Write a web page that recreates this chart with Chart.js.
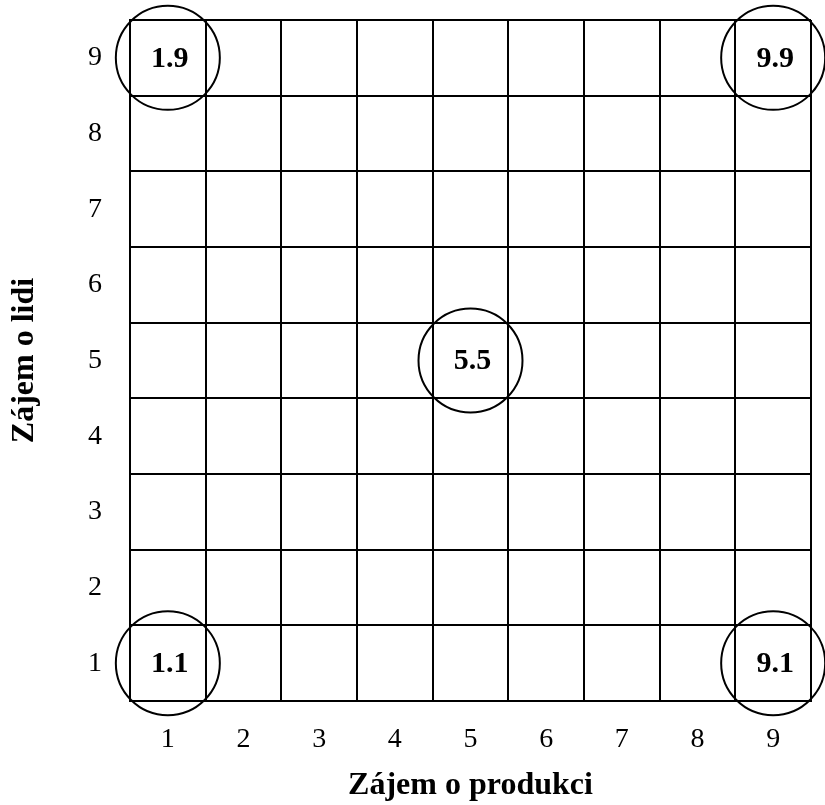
<!DOCTYPE html>
<html>
<head>
<meta charset="utf-8">
<title>Zájem o lidi / Zájem o produkci</title>
<script src="https://cdn.jsdelivr.net/npm/chart.js@4/dist/chart.umd.min.js"></script>
<style>
    html, body { margin: 0; padding: 0; background: #fff; }
    #grid { display: block; }
</style>
</head>
<body>
<canvas id="grid" width="825" height="805"></canvas>
<script>
// axis categories
const xLabels = ['1', '2', '3', '4', '5', '6', '7', '8', '9'];
const yLabels = ['9', '8', '7', '6', '5', '4', '3', '2', '1'];

// marked cells (x = zájem o produkci, y = zájem o lidi)
const pointX = [1, 9, 5, 1, 9];
const pointY = [9, 9, 5, 1, 1];
const pointText = ['1.9', '9.9', '5.5', '1.1', '9.1'];

const serif = '"Liberation Serif", "Times New Roman", serif';

// writes the bold number in the middle of each circle
const cellText = {
    id: 'cellText',
    afterDatasetsDraw(chart) {
        const ctx = chart.ctx;
        const meta = chart.getDatasetMeta(0);
        ctx.save();
        ctx.fillStyle = '#000';
        ctx.font = 'bold 30px ' + serif;
        ctx.textAlign = 'center';
        ctx.textBaseline = 'middle';
        meta.data.forEach((pt, i) => {
            ctx.fillText(pointText[i], pt.x + 2, pt.y + 1);
        });
        ctx.restore();
    }
};

const points = pointX.map((x, i) => ({ x: String(x), y: String(pointY[i]) }));

new Chart(document.getElementById('grid').getContext('2d'), {
    type: 'scatter',
    data: {
        datasets: [{
            data: points,
            pointRadius: 52,
            pointHoverRadius: 52,
            pointBorderWidth: 2,
            pointBorderColor: '#000',
            pointBackgroundColor: 'rgba(0,0,0,0)',
            clip: false
        }]
    },
    options: {
        responsive: false,
        animation: false,
        devicePixelRatio: 1,
        layout: { autoPadding: false, padding: { top: 20, right: 14, left: 0, bottom: 0 } },
        plugins: {
            legend: { display: false },
            tooltip: { enabled: false }
        },
        scales: {
            x: {
                type: 'category',
                labels: xLabels,
                offset: true,
                grid: { offset: true, color: '#000', lineWidth: 2, drawTicks: false },
                border: { color: '#000', width: 2 },
                ticks: { color: '#000', padding: 22, font: { family: serif, size: 28 } },
                title: {
                    display: true,
                    text: 'Zájem o produkci',
                    color: '#000',
                    padding: 0,
                    font: { family: serif, size: 32, weight: 'bold' }
                },
                afterFit(scale) {
                    scale.height = 104;
                    scale.paddingLeft = 0;
                    scale.paddingRight = 0;
                }
            },
            y: {
                type: 'category',
                labels: yLabels,
                offset: true,
                grid: { offset: true, color: '#000', lineWidth: 2, drawTicks: false },
                border: { color: '#000', width: 2 },
                ticks: { color: '#000', padding: 28, font: { family: serif, size: 28 } },
                title: {
                    display: true,
                    text: 'Zájem o lidi',
                    color: '#000',
                    padding: { top: 6, bottom: 0 },
                    font: { family: serif, size: 32, weight: 'bold' }
                },
                afterFit(scale) {
                    scale.width = 130;
                    scale.paddingTop = 0;
                    scale.paddingBottom = 0;
                }
            }
        }
    },
    plugins: [cellText]
});
</script>
</body>
</html>
